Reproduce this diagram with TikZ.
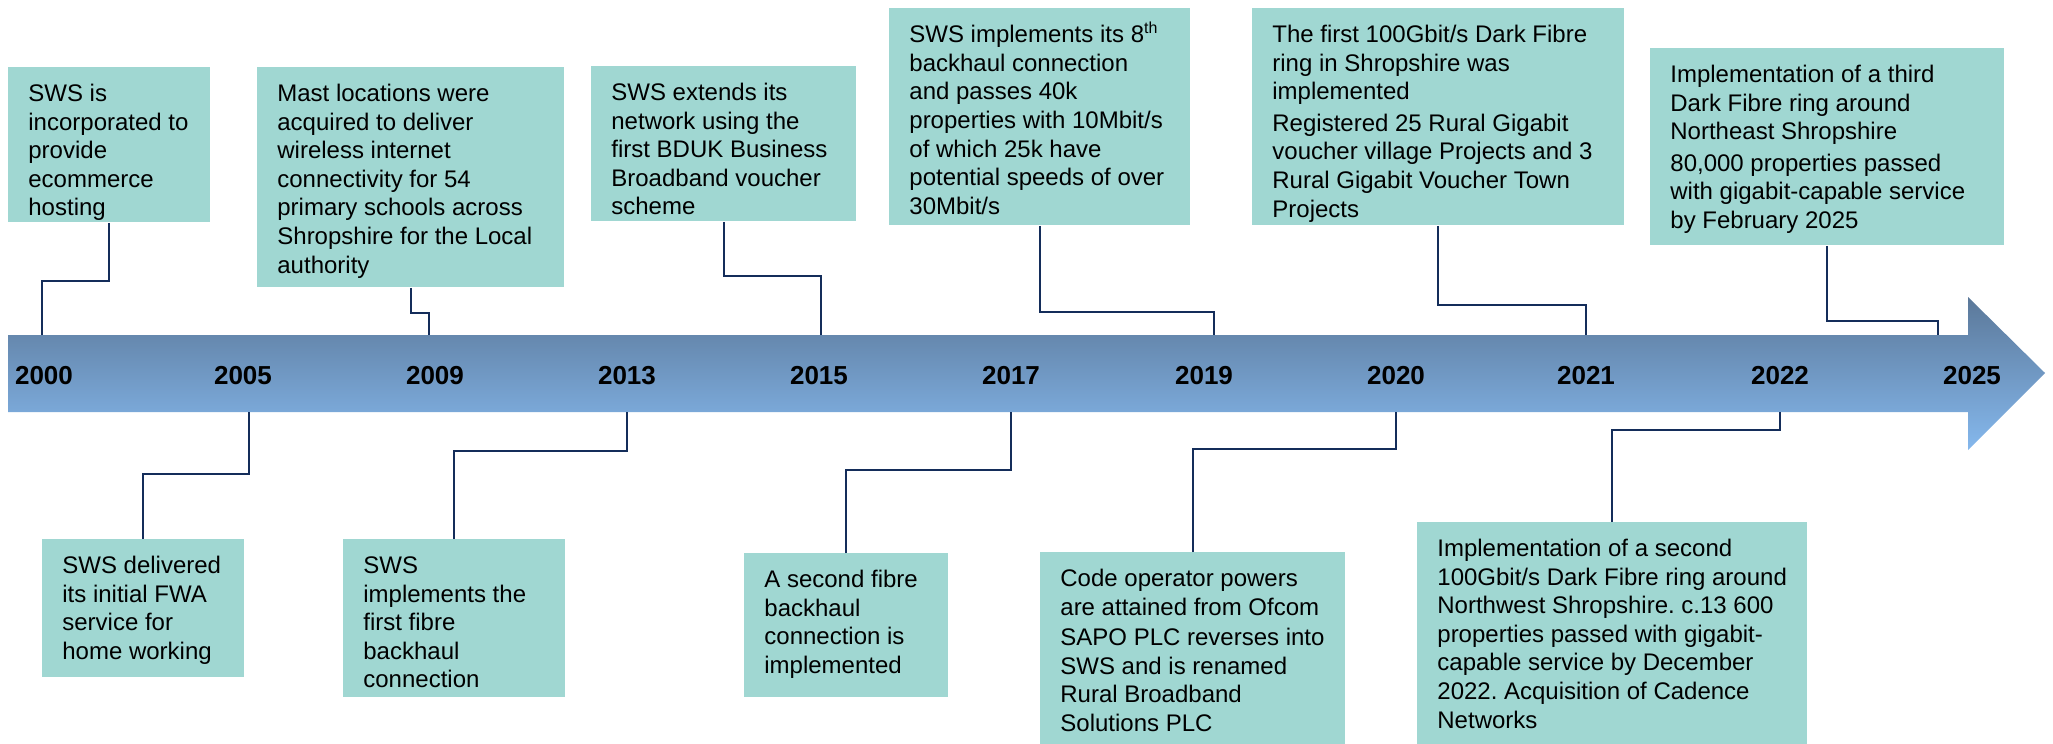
\documentclass[tikz,border=0pt]{standalone}
\usepackage{fontspec}
\setmainfont{Liberation Sans}
\usetikzlibrary{calc}
\frenchspacing
\definecolor{boxfill}{RGB}{160,215,210}
\definecolor{connc}{RGB}{20,45,90}
\definecolor{bartop}{RGB}{91,120,153}
\definecolor{barbot}{RGB}{133,184,237}
\tikzset{
  box/.style={fill=boxfill, draw=none, inner sep=0pt, anchor=north west},
  txt/.style={anchor=north west, inner sep=0pt, align=left, text=black,
    font=\fontsize{12pt}{14.3pt}\selectfont\frenchspacing},
  year/.style={anchor=base, inner sep=0pt, font=\fontsize{13pt}{15pt}\selectfont\bfseries, text=black},
  conn/.style={draw=connc, line width=1pt}
}
\begin{document}
\begin{tikzpicture}[x=0.5pt,y=-0.5pt]
\useasboundingbox (0,0) rectangle (2053,744);
\clip (0,0) rectangle (2053,744);

% arrow
\shade[top color=bartop, bottom color=barbot]
  (8,335) -- (1968,335) -- (1968,297) -- (2045,373) -- (1968,450) -- (1968,412) -- (8,412) -- cycle;

% years
\node[year] (y2000) at (44,384) {2000};
\node[year] (y2005) at (243,384) {2005};
\node[year] (y2009) at (435,384) {2009};
\node[year] (y2013) at (627,384) {2013};
\node[year] (y2015) at (819,384) {2015};
\node[year] (y2017) at (1011,384) {2017};
\node[year] (y2019) at (1204,384) {2019};
\node[year] (y2020) at (1396,384) {2020};
\node[year] (y2021) at (1586,384) {2021};
\node[year] (y2022) at (1780,384) {2022};
\node[year] (y2025) at (1972,384) {2025};

% connector ends on the bar
\coordinate (p2000) at (42,335);
\coordinate (p2009) at (429,335);
\coordinate (p2015) at (821,335);
\coordinate (p2019) at (1214,335);
\coordinate (p2021) at (1586,335);
\coordinate (p2025) at (1938,335);
\coordinate (q2005) at (249,412);
\coordinate (q2013) at (627,412);
\coordinate (q2017) at (1011,412);
\coordinate (q2020) at (1396,412);
\coordinate (q2022) at (1780,412);

% top boxes
\node[box, minimum width=101pt, minimum height=77.5pt] (n1) at (8,67) {};
\node[box, minimum width=153.5pt, minimum height=110pt] (n2) at (257,67) {};
\node[box, minimum width=132.5pt, minimum height=77.5pt] (n3) at (591,66) {};
\node[box, minimum width=150.5pt, minimum height=108.5pt] (n4) at (889,8) {};
\node[box, minimum width=186pt, minimum height=108.5pt] (n5) at (1252,8) {};
\node[box, minimum width=177pt, minimum height=98.5pt] (n6) at (1650,48) {};

% bottom boxes
\node[box, minimum width=101pt, minimum height=69pt] (m1) at (42,539) {};
\node[box, minimum width=111pt, minimum height=79pt] (m2) at (343,539) {};
\node[box, minimum width=102pt, minimum height=72pt] (m3) at (744,553) {};
\node[box, minimum width=152.5pt, minimum height=100pt] (m4) at (1040,552) {};
\node[box, minimum width=195pt, minimum height=115pt] (m5) at (1417,522) {};

% texts
\node[txt] (t1) at (28,81) {\strut SWS is\\incorporated to\\provide\\ecommerce\\hosting};
\node[txt] (t2) at (277,81) {\strut Mast locations were\\acquired to deliver\\wireless internet\\connectivity for 54\\primary schools across\\Shropshire for the Local\\authority};
\node[txt] (t3) at (611,80) {\strut SWS extends its\\network using the\\first BDUK Business\\Broadband voucher\\scheme};
\node[txt] (t4) at (909,22) {\strut SWS implements its 8\textsuperscript{th}\\backhaul connection\\and passes 40k\\properties with 10Mbit/s\\of which 25k have\\potential speeds of over\\30Mbit/s};
\node[txt] (t5) at (1272,22) {\strut The first 100Gbit/s Dark Fibre\\ring in Shropshire was\\implemented\\[1.5pt]Registered 25 Rural Gigabit\\voucher village Projects and 3\\Rural Gigabit Voucher Town\\Projects};
\node[txt] (t6) at (1670,62) {\strut Implementation of a third\\Dark Fibre ring around\\Northeast Shropshire\\[1.5pt]80,000 properties passed\\with gigabit-capable service\\by February 2025};

\node[txt] (u1) at (62,553) {\strut SWS delivered\\its initial FWA\\service for\\home working};
\node[txt] (u2) at (363,553) {\strut SWS\\implements the\\first fibre\\backhaul\\connection};
\node[txt] (u3) at (764,567) {\strut A second fibre\\backhaul\\connection is\\implemented};
\node[txt] (u4) at (1060,566) {\strut Code operator powers\\are attained from Ofcom\\[1pt]SAPO PLC reverses into\\SWS and is renamed\\Rural Broadband\\Solutions PLC};
\node[txt] (u5) at (1437,536) {\strut Implementation of a second\\100Gbit/s Dark Fibre ring around\\Northwest Shropshire. c.13 600\\properties passed with gigabit-\\capable service by December\\2022. Acquisition of Cadence\\Networks};

% connectors (top)
\draw[conn] (n1.south) |- ($(p2000)+(0,-54)$) -- (p2000);
\draw[conn] (n2.south) |- ($(p2009)+(0,-22)$) -- (p2009);
\draw[conn] (n3.south) |- ($(p2015)+(0,-59)$) -- (p2015);
\draw[conn] (n4.south) |- ($(p2019)+(0,-23)$) -- (p2019);
\draw[conn] (n5.south) |- ($(p2021)+(0,-30)$) -- (p2021);
\draw[conn] (n6.south) |- ($(p2025)+(0,-14)$) -- (p2025);
% connectors (bottom)
\draw[conn] (m1.north) |- ($(q2005)+(0,62)$) -- (q2005);
\draw[conn] (m2.north) |- ($(q2013)+(0,39)$) -- (q2013);
\draw[conn] (m3.north) |- ($(q2017)+(0,58)$) -- (q2017);
\draw[conn] (m4.north) |- ($(q2020)+(0,37)$) -- (q2020);
\draw[conn] (m5.north) |- ($(q2022)+(0,18)$) -- (q2022);
\end{tikzpicture}
\end{document}
